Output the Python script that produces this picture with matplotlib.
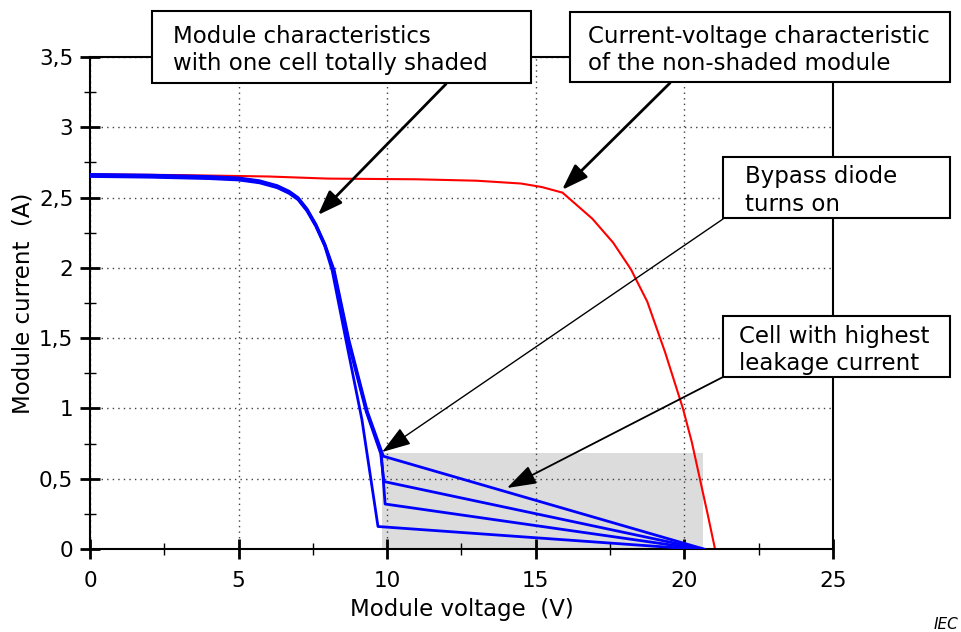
import matplotlib
matplotlib.use("Agg")
import matplotlib.pyplot as plt
from matplotlib.patches import Rectangle
from matplotlib.ticker import MultipleLocator, FuncFormatter

# non-shaded module (red curve)
full_v = [0, 3, 6, 8, 11, 13, 14.5, 15.2, 15.9, 16.9, 17.6, 18.2, 18.75, 19.35, 19.95, 20.25, 20.52, 20.78, 21.03]
full_i = [2.665, 2.66, 2.65, 2.635, 2.63, 2.62, 2.6, 2.575, 2.535, 2.35, 2.18, 1.99, 1.76, 1.4, 1.0, 0.76, 0.5, 0.25, 0.0]

# module with one cell shaded (blue curves, one per measurement)
shaded_v_a = [0, 2, 4, 5, 5.7, 6.3, 6.7, 7.0, 7.3, 7.6, 7.9, 8.22, 8.72, 9.33, 9.87, 20.65]
shaded_i_a = [2.665, 2.66, 2.65, 2.64, 2.62, 2.585, 2.545, 2.5, 2.42, 2.31, 2.17, 1.98, 1.48, 0.98, 0.66, 0.0]

shaded_v_b = [0, 2, 4, 5, 5.7, 6.3, 6.7, 7.0, 7.3, 7.6, 7.9, 8.19, 8.68, 9.29, 9.78, 9.89, 20.6]
shaded_i_b = [2.66, 2.655, 2.645, 2.635, 2.615, 2.58, 2.54, 2.495, 2.415, 2.305, 2.165, 1.98, 1.48, 0.98, 0.68, 0.48, 0.0]

shaded_v_c = [0, 2, 4, 5, 5.7, 6.3, 6.7, 7.0, 7.3, 7.6, 7.9, 8.2, 8.7, 9.31, 9.8, 9.93, 20.5]
shaded_i_c = [2.655, 2.65, 2.64, 2.63, 2.61, 2.575, 2.535, 2.49, 2.41, 2.3, 2.16, 1.98, 1.48, 0.98, 0.68, 0.32, 0.0]

shaded_v_d = [0, 2, 4, 5, 5.7, 6.3, 6.7, 7.0, 7.3, 7.6, 7.9, 8.15, 8.6, 9.15, 9.69, 20.3]
shaded_i_d = [2.65, 2.645, 2.635, 2.625, 2.605, 2.57, 2.53, 2.485, 2.405, 2.295, 2.155, 1.98, 1.5, 0.92, 0.16, 0.0]

# grey region where the bypass diode conducts
shade_v = [9.83, 20.63]
shade_top = 0.68

# arrow targets (V, A)
tip_shaded = (7.67, 2.376)
tip_full = (15.88, 2.554)
tip_bypass = (9.83, 0.69)
tip_leak = (14.03, 0.434)

W, H = 962, 632

fig = plt.figure(figsize=(W / 100, H / 100), dpi=100)
ax = fig.add_axes([90 / W, 83 / H, 743 / W, 492 / H])

ax.fill_between(shade_v, 0, shade_top, color="#dcdcdc", lw=0, zorder=0.5)
ax.plot(full_v, full_i, color="#ff0000", lw=1.5, zorder=2)
for v, i in [(shaded_v_a, shaded_i_a), (shaded_v_b, shaded_i_b),
             (shaded_v_c, shaded_i_c), (shaded_v_d, shaded_i_d)]:
    ax.plot(v, i, color="#0000ff", lw=2, zorder=3)

ax.set_xlim(0, 25)
ax.set_ylim(0, 3.5)
ax.xaxis.set_major_locator(MultipleLocator(5))
ax.xaxis.set_minor_locator(MultipleLocator(2.5))
ax.yaxis.set_major_locator(MultipleLocator(0.5))
ax.yaxis.set_minor_locator(MultipleLocator(0.25))
ax.yaxis.set_major_formatter(FuncFormatter(lambda val, pos: "{:g}".format(val).replace(".", ",")))

ax.tick_params(which="major", direction="inout", length=14, width=2, labelsize=15.5, color="black")
ax.tick_params(axis="x", which="major", pad=9)
ax.tick_params(axis="y", which="major", pad=5)
ax.tick_params(which="minor", direction="inout", length=9, width=1)
for s in ax.spines.values():
    s.set_linewidth(1.5)

ax.grid(True, which="major", linestyle=(0, (1, 3)), color="0.25", linewidth=1)

ax.set_xlabel("Module voltage  (V)", fontsize=16.5, labelpad=5)
ax.set_ylabel("Module current  (A)", fontsize=16.5, labelpad=3)


def text_box(x0, y0, x1, y1, lines, tx, baselines):
    # box drawn in image pixel coordinates (origin top left)
    fig.add_artist(Rectangle((x0 / W, 1 - y1 / H), (x1 - x0) / W, (y1 - y0) / H,
                             transform=fig.transFigure, fc="white", ec="black", lw=1.5, zorder=5))
    for line, b in zip(lines, baselines):
        fig.text(tx / W, 1 - b / H, line, fontsize=16.5, ha="left", va="baseline", zorder=6)


def arrow(tip, start, lw, hl, hw):
    ax.annotate("", xy=tip, xycoords="data",
                xytext=(start[0] / W, 1 - start[1] / H), textcoords="figure fraction",
                arrowprops=dict(arrowstyle="-|>,head_length={},head_width={}".format(hl, hw),
                                color="black", lw=lw, shrinkA=0, shrinkB=0),
                annotation_clip=False, zorder=4)


arrow(tip_shaded, (446, 84), 2, 1.5, 0.55)
arrow(tip_full, (670, 83), 2, 1.6, 0.55)
arrow(tip_bypass, (723, 219), 1, 1.8, 0.6)
arrow(tip_leak, (723, 377), 1.3, 1.8, 0.6)

text_box(152, 11, 531, 83, ["Module characteristics", "with one cell totally shaded"], 173, [43, 70])
text_box(570, 12, 950, 82, ["Current-voltage characteristic", "of the non-shaded module"], 588, [43, 70])
text_box(723, 157, 950, 218, ["Bypass diode", "turns on"], 745, [183, 211])
text_box(723, 316, 950, 377, ["Cell with highest", "leakage current"], 739, [343, 370])

fig.text(958 / W, 1 - 629 / H, "IEC", style="italic", fontsize=11, ha="right", va="baseline")

fig.savefig("out.png", dpi=100)
